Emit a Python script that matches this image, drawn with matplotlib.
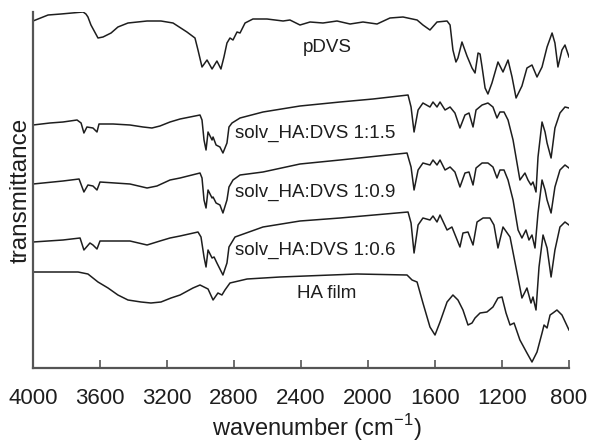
import matplotlib
matplotlib.use("Agg")
import matplotlib.pyplot as plt

plt.rcParams['font.family'] = ['Liberation Sans', 'DejaVu Sans']

# ---- data (wavenumber in cm^-1, transmittance in arbitrary offset units) ----
pdvs_wn = [4000,3910,3833,3701,3684,3672,3654,3612,3582,3534,3493,3433,3319,3236,3164,3081,3033,3015,2991,2961,
           2931,2902,2878,2860,2842,2824,2806,2782,2764,2734,2687,2603,2507,2466,2406,2346,2269,2185,2107,2030,
           1946,1869,1791,1707,1672,1630,1588,1528,1510,1493,1475,1463,1439,1409,1379,1361,1343,1331,1319,1301,
           1284,1260,1224,1194,1164,1140,1116,1081,1051,1021,991,961,931,901,884,866,842,824,800]
pdvs_t = [379,385,386,388,386,383,375,362,363,367,373,377,379,379,377,368,362,350,333,340,
          331,339,331,343,357,362,360,368,367,377,381,381,379,380,375,378,377,379,376,378,
          376,382,383,380,375,370,378,379,375,350,338,342,358,344,332,327,347,346,333,312,
          306,317,338,328,340,323,302,314,332,335,323,333,353,367,357,333,350,355,343]

s15_wn = [4000,3899,3821,3737,3713,3696,3678,3642,3618,3606,3522,3421,3343,3290,3242,3182,3122,3003,2991,2979,
          2967,2955,2931,2925,2907,2884,2866,2842,2830,2812,2764,2627,2406,2167,1970,1761,
          1743,1725,1701,1672,1630,1612,1588,1570,1540,1510,1481,1451,1421,1397,1373,1355,1319,1284,1254,1230,
          1212,1188,1164,1134,1093,1063,1045,1027,1015,997,985,961,943,931,907,884,854,824,800]
s15_t = [275,277,278,280,277,267,273,272,268,276,276,275,273,272,274,278,281,285,280,260,
         250,268,260,263,255,253,247,257,273,277,282,288,294,298,301,305,
         293,268,290,297,293,298,293,298,290,293,287,272,285,287,273,290,295,297,293,282,
         288,288,280,260,220,227,220,215,218,208,243,278,268,257,242,272,287,293,292]

s09_wn = [4000,3821,3725,3696,3672,3642,3618,3600,3421,3319,3260,3182,3122,3003,2991,2979,2967,2955,2931,2925,
          2907,2884,2866,2842,2830,2806,2764,2627,2406,2167,1767,
          1743,1725,1701,1672,1630,1612,1588,1570,1540,1510,1481,1451,1421,1397,1373,1355,1319,1284,1254,1230,
          1212,1188,1164,1134,1104,1081,1057,1039,1021,1003,985,961,943,931,907,884,854,824,800]
s09_t = [216,219,221,208,215,214,210,218,216,212,214,220,222,227,222,200,192,210,202,203,
         197,195,187,200,213,220,225,228,236,240,247,
         233,210,230,237,235,240,235,240,230,233,228,213,227,228,215,232,237,237,233,222,
         230,230,220,200,170,162,170,160,165,152,187,220,210,200,187,213,230,235,232]

s06_wn = [4000,3821,3719,3696,3660,3642,3618,3600,3421,3319,3242,3182,3122,3015,2997,2979,2967,2955,2931,2919,
          2902,2866,2842,2830,2794,2627,2406,2167,1761,
          1743,1725,1701,1672,1630,1612,1588,1570,1528,1499,1451,1433,1403,1373,1349,1313,1272,1248,1224,1194,
          1152,1110,1081,1051,1027,1015,997,979,955,931,907,884,854,824,800]
s06_t = [158,160,162,150,157,155,151,159,159,155,159,162,164,168,163,143,133,150,142,143,
         137,125,137,153,163,173,179,182,188,
         177,147,175,182,180,184,178,185,170,173,153,167,168,155,178,182,182,175,152,173,
         163,127,102,112,97,103,90,133,165,152,123,150,173,178,175]

ha_wn = [4000,3731,3672,3612,3552,3493,3433,3355,3296,3236,3176,3122,3045,3003,2955,2925,2896,2872,2854,2824,
         2722,2525,2066,1767,
         1737,1707,1672,1630,1600,1570,1528,1493,1463,1433,1403,1379,1361,1331,1290,1254,1224,1200,1176,1152,
         1128,1093,1051,1021,991,961,949,931,913,896,872,842,800]
ha_t = [128,128,126,118,112,105,100,98,97,98,102,105,112,115,111,100,107,105,110,117,
        121,123,126,125,
        120,118,97,73,65,78,98,105,100,90,75,77,82,87,88,93,102,103,87,75,
        77,60,47,38,48,67,75,72,85,87,90,85,70]

series = [(pdvs_wn, pdvs_t), (s15_wn, s15_t), (s09_wn, s09_t), (s06_wn, s06_t), (ha_wn, ha_t)]
labels = ["pDVS", "solv_HA:DVS 1:1.5", "solv_HA:DVS 1:0.9", "solv_HA:DVS 1:0.6", "HA film"]
label_pos = [(2245, 353, 'center'), (2794, 267, 'left'), (2794, 208, 'left'),
             (2794, 150, 'left'), (2424, 107, 'left')]
xticks = [4000, 3600, 3200, 2800, 2400, 2000, 1600, 1200, 800]

fig = plt.figure(figsize=(5.9, 4.44), dpi=100)
ax = fig.add_axes([33/590, 1-368/444, (569-33)/590, (368-12)/444])

for wn, t in series:
    ax.plot(wn, t, color='#1e1e1e', lw=1.1, solid_joinstyle='round')

for (x, y, ha), lab in zip(label_pos, labels):
    ax.text(x, y, lab, ha=ha, va='center', fontsize=13.5, color='#1e1e1e')

ax.set_xlim(4000, 800)
ax.set_ylim(32, 388)
ax.set_xticks(xticks)
ax.set_xticklabels([str(v) for v in xticks], fontsize=16, color='#1e1e1e')
ax.set_yticks([])
ax.tick_params(axis='x', direction='in', length=6, width=1.2, color='#555555', pad=14.5)
for s in ['top', 'right']:
    ax.spines[s].set_visible(False)
for s in ['left', 'bottom']:
    ax.spines[s].set_color('#555555')
    ax.spines[s].set_linewidth(1.6)

xl = ax.set_xlabel('wavenumber (cm$^{\\mathregular{-1}}$)', fontsize=17, color='#1e1e1e')
xl.set_va('baseline')
ax.xaxis.set_label_coords(0.529, -0.192)
yl = ax.set_ylabel('transmittance', fontsize=17.5, color='#1e1e1e')
yl.set_va('baseline')
ax.yaxis.set_label_coords(-0.0112, 0.499)
ax.patch.set_alpha(0)

fig.savefig('out.png', dpi=100)
